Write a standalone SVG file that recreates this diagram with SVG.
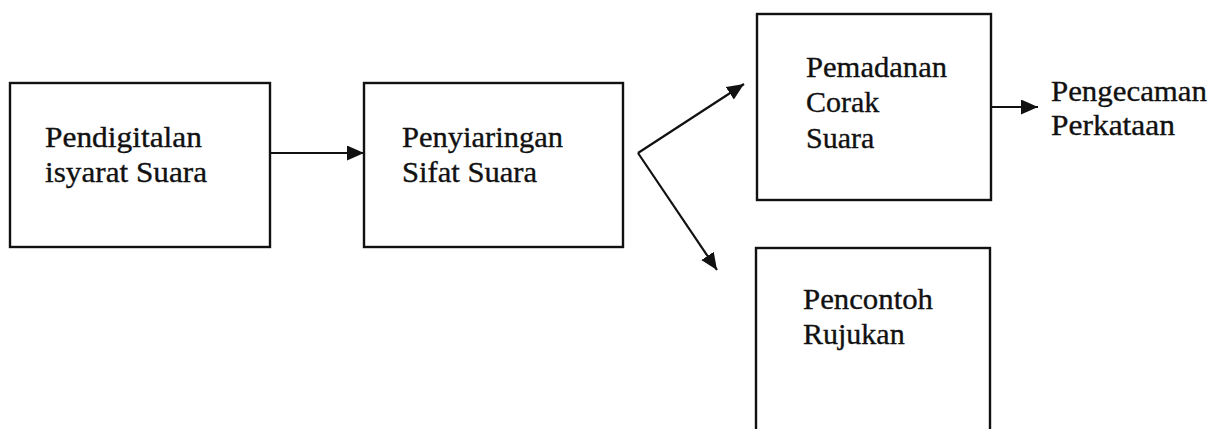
<svg xmlns="http://www.w3.org/2000/svg" width="1224" height="429" viewBox="0 0 1224 429">
  <style>
    .box { fill: #ffffff; stroke: #111111; stroke-width: 2.4; }
    .lbl { font-family: "Liberation Serif", "Times New Roman", serif; font-size: 30px; fill: #111111; stroke: #111111; stroke-width: 0.35; }
    .conn { stroke: #111111; stroke-width: 2.2; fill: none; marker-end: url(#arr); }
  </style>
  <defs>
    <marker id="arr" markerUnits="userSpaceOnUse" markerWidth="20" markerHeight="16" refX="17" refY="7.5" orient="auto">
      <path d="M0,0 L17,7.5 L0,15 Z" fill="#111111"/>
    </marker>
  </defs>
  <rect width="1224" height="429" fill="#ffffff"/>

  <g id="node-pendigitalan">
    <rect class="box" x="10" y="83" width="260" height="164"/>
    <text class="lbl" x="45" y="147" textLength="157" lengthAdjust="spacingAndGlyphs">Pendigitalan</text>
    <text class="lbl" x="45" y="182" textLength="162" lengthAdjust="spacingAndGlyphs">isyarat Suara</text>
  </g>

  <g id="node-penyiaringan">
    <rect class="box" x="364" y="83" width="259" height="164"/>
    <text class="lbl" x="402" y="147" textLength="161" lengthAdjust="spacingAndGlyphs">Penyiaringan</text>
    <text class="lbl" x="402" y="182" textLength="135" lengthAdjust="spacingAndGlyphs">Sifat Suara</text>
  </g>

  <g id="node-pemadanan">
    <rect class="box" x="757" y="14" width="234" height="186"/>
    <text class="lbl" x="806" y="77" textLength="141" lengthAdjust="spacingAndGlyphs">Pemadanan</text>
    <text class="lbl" x="806" y="112">Corak</text>
    <text class="lbl" x="806" y="148">Suara</text>
  </g>

  <g id="node-pencontoh">
    <rect class="box" x="756" y="248" width="234" height="200"/>
    <text class="lbl" x="803" y="309" textLength="130" lengthAdjust="spacingAndGlyphs">Pencontoh</text>
    <text class="lbl" x="803" y="344">Rujukan</text>
  </g>

  <g id="node-pengecaman">
    <text class="lbl" x="1051" y="101" textLength="156" lengthAdjust="spacingAndGlyphs">Pengecaman</text>
    <text class="lbl" x="1051" y="135" textLength="124" lengthAdjust="spacingAndGlyphs">Perkataan</text>
  </g>

  <g id="connectors">
    <line class="conn" x1="270" y1="153" x2="364" y2="153"/>
    <line class="conn" x1="638" y1="153" x2="744" y2="84"/>
    <line class="conn" x1="638" y1="153" x2="717" y2="270"/>
    <line class="conn" x1="991" y1="107" x2="1038" y2="107"/>
  </g>
</svg>
